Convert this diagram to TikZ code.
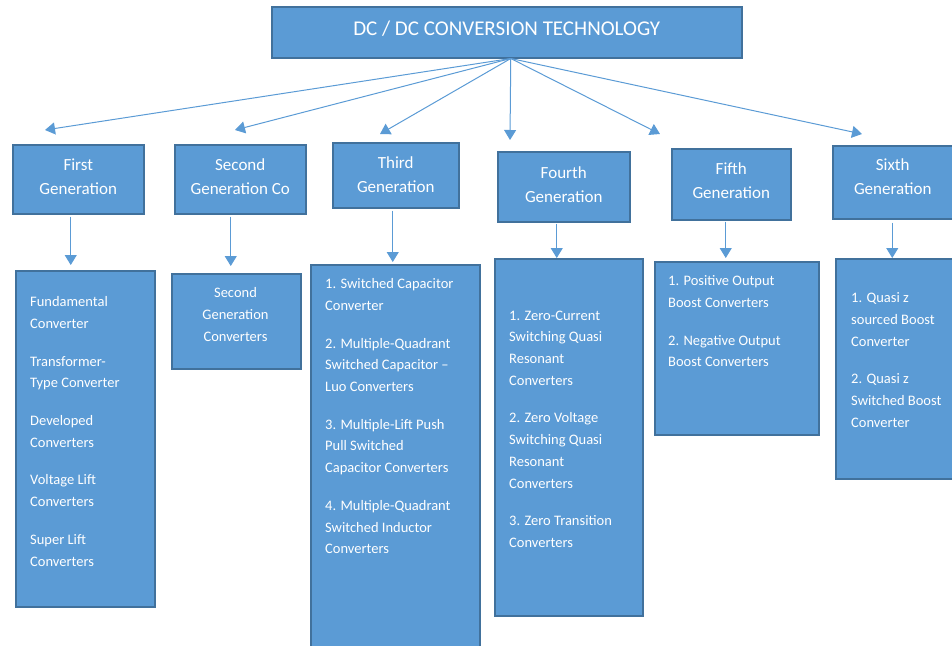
\documentclass[tikz,border=0pt]{standalone}
\usepackage{fontspec}
\setmainfont{Carlito}
\usetikzlibrary{arrows.meta}
\definecolor{genblue}{HTML}{5B9BD5}
\definecolor{genedge}{HTML}{41719C}
\definecolor{arrowblue}{HTML}{5B9BD5}
\tikzset{
  genbox/.style={draw=genedge, line width=1.5pt, fill=genblue, anchor=north west, inner sep=0pt},
  headtext/.style={text=white, align=center, inner sep=0pt, font=\fontsize{17}{24}\selectfont},
  listtext/.style={text=white, align=left, anchor=north west, inner sep=0pt, font=\fontsize{14.5}{21.7}\selectfont},
  arr/.style={draw=arrowblue, line width=1pt, -{Triangle[width=12pt,length=10pt]}}
}
\begin{document}
\begin{tikzpicture}[x=1pt,y=-1pt]
    \useasboundingbox (0,0) rectangle (952,645);
    \clip (0,0) rectangle (952,645);
    % title
    \node[genbox, minimum width=470pt, minimum height=51pt, text=white, text height=13.5pt, text depth=7pt, font=\fontsize{21}{24}\selectfont] (top) at (271,6) {DC / DC CONVERSION TECHNOLOGY};
    % generations
    \node[genbox, minimum width=131pt, minimum height=69pt] (g1) at (12,144) {};
    \node[genbox, minimum width=131pt, minimum height=69pt] (g2) at (174,144) {};
    \node[genbox, minimum width=126pt, minimum height=65pt] (g3) at (332,142) {};
    \node[genbox, minimum width=132pt, minimum height=70pt] (g4) at (497,151) {};
    \node[genbox, minimum width=119pt, minimum height=71pt] (g5) at (671,148) {};
    \node[genbox, minimum width=124pt, minimum height=73pt] (g6) at (832,145) {};
    \node[headtext] (g1t) at ([yshift=3pt]g1.center) {First\\Generation};
    \node[headtext] (g2t) at ([yshift=3pt]g2.center) {Second\\Generation Co};
    \node[headtext] (g3t) at ([yshift=0.5pt]g3.center) {Third\\Generation};
    \node[headtext] (g4t) at ([yshift=2pt]g4.center) {Fourth\\Generation};
    \node[headtext] (g5t) at ([yshift=4pt]g5.center) {Fifth\\Generation};
    \node[headtext] (g6t) at ([xshift=-2pt,yshift=5.5pt]g6.center) {Sixth\\Generation};
    % converter lists
    \node[genbox, minimum width=139pt, minimum height=336pt] (l1) at (15,270) {};
    \node[genbox, minimum width=129pt, minimum height=95pt] (l2) at (171,273) {};
    \node[genbox, minimum width=169pt, minimum height=390pt] (l3) at (310,264) {};
    \node[genbox, minimum width=148pt, minimum height=357pt] (l4) at (494,258) {};
    \node[genbox, minimum width=164pt, minimum height=173pt] (l5) at (654,261) {};
    \node[genbox, minimum width=124pt, minimum height=220pt] (l6) at (835,258) {};
    \node[listtext] (l1t) at (30,296.5) {Fundamental\\Converter\\[16pt]Transformer-\\Type Converter\\[16pt]Developed\\Converters\\[16pt]Voltage Lift\\Converters\\[16pt]Super Lift\\Converters};
    \node[listtext, align=center, anchor=north] (l2t) at (235.5,287.5) {Second\\Generation\\Converters};
    \node[listtext] (l3t) at (325,278.5) {1. Switched Capacitor\\Converter\\[16pt]2. Multiple-Quadrant\\Switched Capacitor --\\Luo Converters\\[16pt]3. Multiple-Lift Push\\Pull Switched\\Capacitor Converters\\[16pt]4. Multiple-Quadrant\\Switched Inductor\\Converters};
    \node[listtext] (l4t) at (509,310.5) {1. Zero-Current\\Switching Quasi\\Resonant\\Converters\\[16pt]2. Zero Voltage\\Switching Quasi\\Resonant\\Converters\\[16pt]3. Zero Transition\\Converters};
    \node[listtext] (l5t) at (668,275.5) {1. Positive Output\\Boost Converters\\[16pt]2. Negative Output\\Boost Converters};
    \node[listtext] (l6t) at (851,292.5) {1. Quasi z\\sourced Boost\\Converter\\[16pt]2. Quasi z\\Switched Boost\\Converter};
    % arrows from title
    \coordinate (hub) at ([xshift=4pt]top.south);
    \coordinate (e1) at (45,130);
    \coordinate (e2) at (235,130);
    \coordinate (e3) at (380,134);
    \coordinate (e4) at (510,140);
    \coordinate (e5) at (660,134);
    \coordinate (e6) at (862,134);
    \draw[arr] (hub) -- (e1);
    \draw[arr] (hub) -- (e2);
    \draw[arr] (hub) -- (e3);
    \draw[arr] (hub) -- (e4);
    \draw[arr] (hub) -- (e5);
    \draw[arr] (hub) -- (e6);
    % arrows down to the lists
    \coordinate (v1) at ([xshift=-7.5pt]g1.south);
    \coordinate (v2) at ([xshift=-9.5pt]g2.south);
    \coordinate (v3) at ([xshift=-3pt]g3.south);
    \coordinate (v4) at ([xshift=-7pt]g4.south);
    \coordinate (v5) at ([xshift=-5.5pt]g5.south);
    \coordinate (v6) at ([xshift=-2.5pt]g6.south);
    \draw[arr, shorten <=2pt, shorten >=5pt] (v1) -- (v1 |- l1.north);
    \draw[arr, shorten <=2pt, shorten >=7pt] (v2) -- (v2 |- l2.north);
    \draw[arr, shorten <=2pt, shorten >=2pt] (v3) -- (v3 |- l3.north);
    \draw[arr, shorten <=1pt] (v4) -- (v4 |- l4.north);
    \draw[arr, shorten <=1pt, shorten >=3pt] (v5) -- (v5 |- l5.north);
    \draw[arr, shorten <=3pt] (v6) -- (v6 |- l6.north);
\end{tikzpicture}
\end{document}
